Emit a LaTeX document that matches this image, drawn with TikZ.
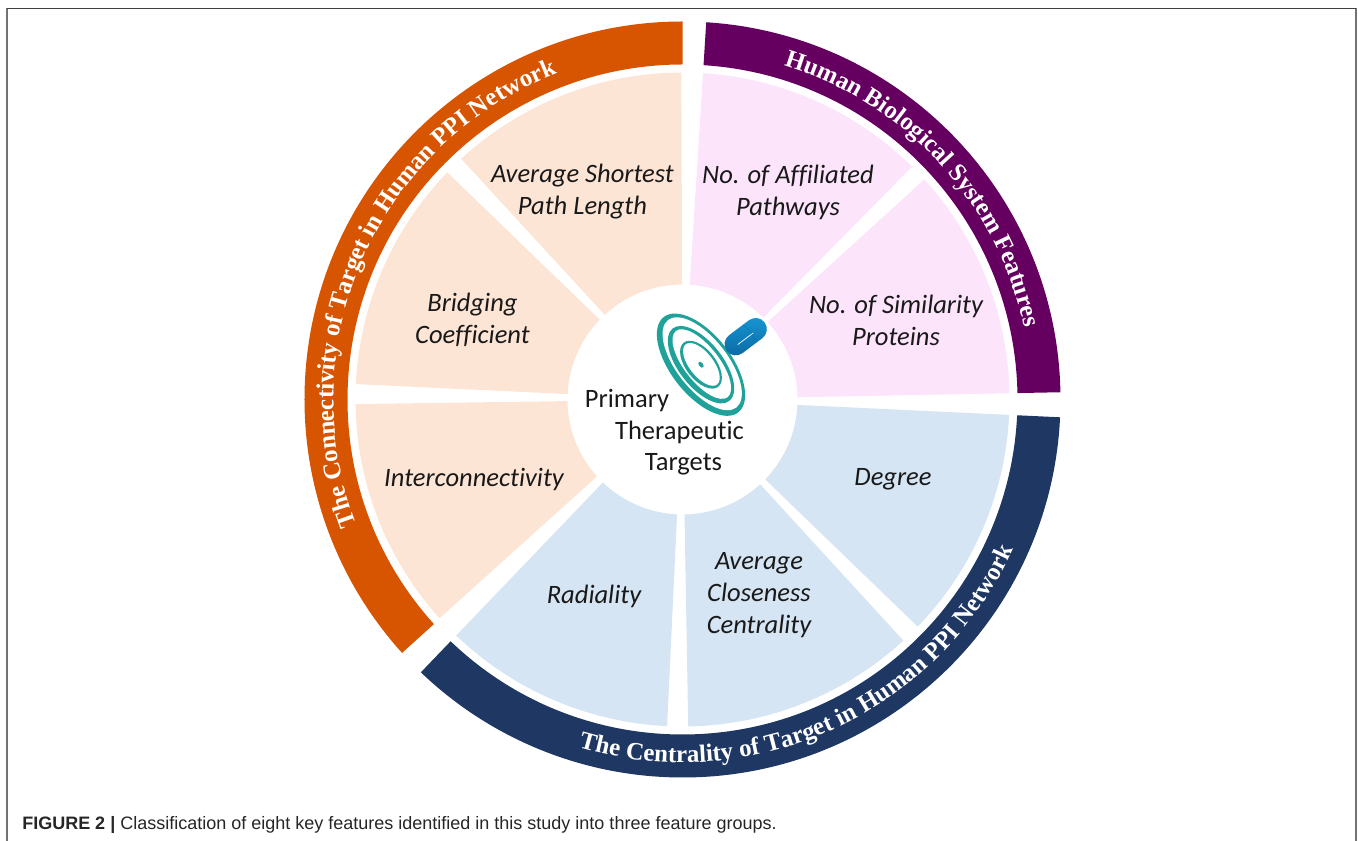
\documentclass[tikz,border=0pt]{standalone}
\usepackage{fontspec}
\usetikzlibrary{decorations.text}
\setmainfont{Carlito}[Ligatures=NoCommon]
\newfontfamily\ringserif{Liberation Serif}
\newfontfamily\capsans{Liberation Sans}
\definecolor{peach}{HTML}{FDE5D6}
\definecolor{pinkish}{HTML}{FCE4FB}
\definecolor{paleblue}{HTML}{D6E5F3}
\definecolor{orangering}{HTML}{D75500}
\definecolor{purplering}{HTML}{660060}
\definecolor{navyring}{HTML}{1E3763}
\definecolor{teal_target}{HTML}{1FA29A}
\definecolor{pill_light}{HTML}{169AD6}
\definecolor{pill_dark}{HTML}{0C659F}
\newcommand{\sectorpath}[4]{(#1:#4) arc[start angle=#1, end angle=#2, radius=#4] -- (#2:#3) arc[start angle=#2, end angle=#1, radius=#3] -- cycle}
\tikzset{
  feature/.style={font=\itshape\fontsize{19.9}{24}\selectfont, align=center, text=black!90},
  hub/.style={font=\fontsize{19.9}{24}\selectfont, text=black!90},
  ringtext/.style={decorate, decoration={text along path, text align=center, text color=white,
    text={|\ringserif\bfseries\fontsize{18.7}{18.7}\selectfont|#1}}},
  capsule/.style={rectangle, rounded corners=8.4pt, minimum width=35.5pt, minimum height=16.8pt, inner sep=0pt,
    transform shape, top color=pill_light, bottom color=pill_dark}
}
\begin{document}
\begin{tikzpicture}[x=0.75pt, y=0.75pt]
        \useasboundingbox (-682.5,-441.5) rectangle (675.5,399.5);

        % FRAME
        % -----------------
        \coordinate (frame_bl) at (-675,-441.5);
        \coordinate (frame_tl) at (-675,391);
        \coordinate (frame_tr) at (673.5,391);
        \coordinate (frame_br) at (673.5,-441.5);
        \draw[black!55, line width=1.5pt] (frame_bl) -- (frame_tl);
        \draw[black!55, line width=1.5pt] (frame_tr) -- (frame_br);
        \draw[black!75, line width=1.1pt] (frame_tl) -- (frame_tr);

        % RINGS
        % -----------------
        \fill[orangering] \sectorpath{90}{222.1}{335}{378};
        \fill[purplering] \sectorpath{86.4}{1.1}{335}{378};
        \fill[navyring] \sectorpath{-2.7}{-133.8}{335}{378};

        % Ring captions
        \path[ringtext={The Connectivity of Target in Human PPI Network}] (215:349) arc[start angle=215, end angle=97, radius=349];
        \path[ringtext={Human Biological System Features}] (85:349) arc[start angle=85, end angle=0, radius=349];
        \path[ringtext={The Centrality of Target in Human PPI Network}] (-118:363) arc[start angle=-118, end angle=-13, radius=363];

        % SECTORS
        % -----------------
        \foreach \from/\to/\shade in {90.2/132.6/peach, 136/177.3/peach, 180.8/222/peach,
                                      86.4/45.4/pinkish, 42.3/1.1/pinkish,
                                      -2.7/-44/paleblue, -47.5/-89/paleblue, -92.7/-133.8/paleblue}
          \fill[\shade] \sectorpath{\from}{\to}{115}{327};

        % LABELS
        % -----------------
        \node[feature] (path_length) at (-100,207.5) {Average Shortest\\Path Length};
        \node[feature] (bridging) at (-210,79.5) {Bridging\\Coefficient};
        \node[feature] (interconn) at (-208.5,-80) {Interconnectivity};
        \node[feature] (pathways) at (105.5,207.5) {No. of Affiliated\\Pathways};
        \node[feature] (similarity) at (213.5,79.5) {No. of Similarity\\Proteins};
        \node[feature] (degree) at (210.5,-80) {Degree};
        \node[feature] (radiality) at (-88.5,-197) {Radiality};
        \node[feature] (closeness) at (76.5,-196) {Average\\Closeness\\Centrality};

        % TARGET
        % -----------------
        \begin{scope}[shift={(18.5,34.8)}, rotate=-52]
          \foreach \ra/\rb/\tint/\off in {60.5/30/teal_target/0, 55.5/25.5/white/1.5,
                                          46/22/teal_target/0, 42/17.5/white/1,
                                          28/15/teal_target/0, 25.5/12/white/0.5,
                                          3.5/2/teal_target/0}
            \fill[\tint] (0,\off) ellipse[x radius=\ra, y radius=\rb];
        \end{scope}

        % Pill
        \begin{scope}[shift={(63.2,62.8)}, rotate=37]
          \node[capsule] (pill) at (0,0) {};
          \draw[white!85!pill_light, line width=0.6pt, line cap=round] (-11,-1.5) -- (8,-1.5);
          \draw[pill_dark, opacity=0.4, line width=0.4pt] (5,11) to[bend left=15] (5,-11);
        \end{scope}

        \node[hub] (primary) at (-55.5,-1) {Primary};
        \node[hub] (therapeutic) at (-3,-33) {Therapeutic};
        \node[hub] (targets) at (1,-65) {Targets};

        % CAPTION
        % -----------------
        \node[anchor=base west, inner sep=0pt, text=black!85, font=\capsans\fontsize{13.5}{16}\selectfont] (caption) at (-660.5,-430) {\textbf{FIGURE 2 |} Classification of eight key features identified in this study into three feature groups.};

    \end{tikzpicture}
\end{document}
